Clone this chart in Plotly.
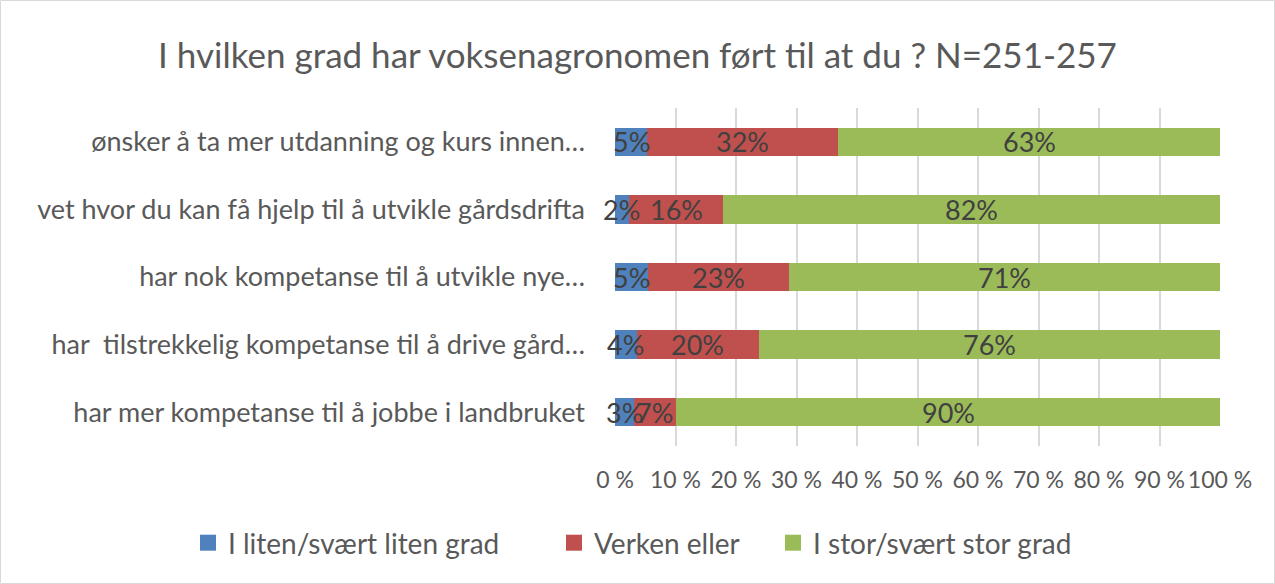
import plotly.graph_objects as go

categories = [
    "har mer kompetanse til å jobbe i landbruket",
    "har  tilstrekkelig kompetanse til å drive gård…",
    "har nok kompetanse til å utvikle nye…",
    "vet hvor du kan få hjelp til å utvikle gårdsdrifta",
    "ønsker å ta mer utdanning og kurs innen…",
]
series_names = ["I liten/svært liten grad", "Verken eller", "I stor/svært stor grad"]
liten = [3.1, 3.6, 5.4, 2.3, 5.3]
verken = [7.0, 20.2, 23.4, 15.6, 31.6]
stor = [89.9, 76.2, 71.2, 82.1, 63.1]
colors = ["#4F81BD", "#C0504D", "#9BBB59"]
tick_vals = [0, 10, 20, 30, 40, 50, 60, 70, 80, 90, 100]
tick_text = [f"{v} %" for v in tick_vals]

FONT = "Lato, Liberation Sans, sans-serif"

L, R, T, B = 615, 55, 108, 138
W, H = 1275, 584
pw, ph = W - L - R, H - T - B

legend_ids = ["legend", "legend2", "legend3"]
legend_left_px = [188, 554, 773]

fig = go.Figure()
all_series = [liten, verken, stor]
for name, vals, col, lid in zip(series_names, all_series, colors, legend_ids):
    fig.add_trace(go.Bar(
        y=categories, x=vals, name=name, orientation="h",
        marker=dict(color=col, line=dict(width=0)),
        hoverinfo="skip", showlegend=False,
    ))
    # legend entry (square swatch)
    fig.add_trace(go.Scatter(
        x=[None], y=[None], mode="markers", name=name, legend=lid,
        marker=dict(symbol="square", size=17, color=col), showlegend=True,
    ))

# data labels centred on each segment, positioned from the data
annotations = []
for i, cat in enumerate(categories):
    base = 0
    for vals in all_series:
        v = vals[i]
        annotations.append(dict(x=base + v / 2, y=i, xref="x", yref="y",
                                text=f"{round(v)}%", showarrow=False,
                                font=dict(family=FONT, size=27, color="#404040")))
        base += v

legend_common = dict(orientation="h", xanchor="left", yref="paper",
                     y=-(543 - (T + ph)) / ph, yanchor="middle",
                     font=dict(family=FONT, size=28, color="#595959"),
                     bgcolor="rgba(0,0,0,0)")
legends = {}
for lid, xpx in zip(legend_ids, legend_left_px):
    legends[lid] = dict(legend_common, x=(xpx - L) / pw, xref="paper")

fig.update_layout(
    width=W, height=H, barmode="stack", bargap=0.58,
    plot_bgcolor="white", paper_bgcolor="white",
    margin=dict(l=L, r=R, t=T, b=B, autoexpand=False),
    title=dict(text="I hvilken grad har voksenagronomen ført til at du ? N=251-257",
               x=0.5, xref="container", xanchor="center", y=1 - 56 / H, yanchor="middle",
               font=dict(family=FONT, size=35, color="#595959")),
    font=dict(family=FONT, color="#595959"),
    xaxis=dict(range=[0, 100], tickvals=tick_vals, ticktext=tick_text,
               showgrid=True, gridcolor="#D9D9D9", gridwidth=2, zeroline=False,
               showline=False, ticks="", ticklabelstandoff=18,
               tickfont=dict(family=FONT, size=23, color="#595959")),
    yaxis=dict(showgrid=False, zeroline=False, showline=False, ticks="",
               ticklabelstandoff=29, autorange=False, range=[-0.5, 4.5],
               tickfont=dict(family=FONT, size=27, color="#595959")),
    annotations=annotations,
    shapes=[dict(type="rect", xref="paper", yref="paper",
                 x0=-(L - 0.5) / pw, x1=(W - L - 0.5) / pw,
                 y0=-(B - 0.5) / ph, y1=(H - B - 0.5) / ph,
                 line=dict(color="#D9D9D9", width=1), fillcolor="rgba(0,0,0,0)", layer="below")],
    **legends,
)

fig.write_html("out.html", config={"displayModeBar": False},
               post_script="document.body.style.margin='0';")
